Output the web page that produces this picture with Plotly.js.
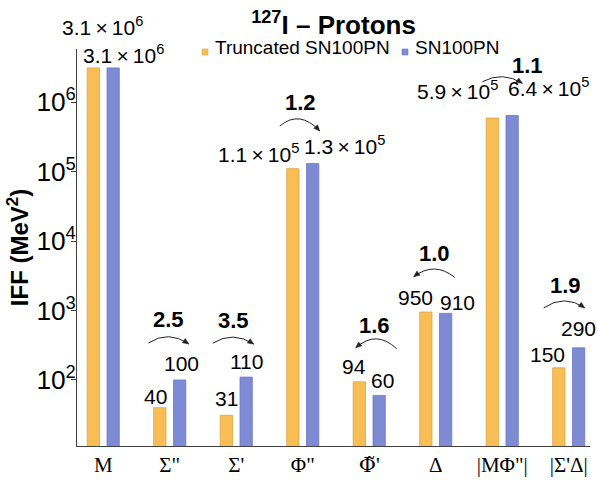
<!DOCTYPE html>
<html><head><meta charset="utf-8">
<script src="https://cdn.plot.ly/plotly-3.0.1.min.js"></script>
<style>html,body{margin:0;padding:0;background:#fff}#chart{width:597px;height:480px}</style>
</head><body><div id="chart"></div>
<script>
// ---------------- data ----------------
const categories = ['M', 'Σ"', "Σ'", 'Φ"', "Φ\u0303'", 'Δ', '|MΦ"|', "|Σ'Δ|"];
const truncatedValues = [3.1e6, 40, 31, 1.1e5, 94, 950, 5.9e5, 150];
const fullValues = [3.1e6, 100, 110, 1.3e5, 60, 910, 6.4e5, 290];
const ratioValues = [null, 2.5, 3.5, 1.2, 1.6, 1.0, 1.1, 1.9];
const seriesNames = ['Truncated SN100PN', 'SN100PN'];

// ---------------- style / placement ----------------
const ORANGE = '#F8BE55', BLUE = '#7E8AD4';
const AXC = '#404040';
const SANS = 'Liberation Sans, Arial, sans-serif';
const SERIF = 'Liberation Serif, Times New Roman, serif';
const yRange = [1.05, 6.763];
const xRange = [-0.395, 7.32];
const BAR_W = 0.185, OFF_T = -0.2415, OFF_F = 0.0565;
const M = {l: 77, r: 7, t: 49, b: 34};
const W = 597, H = 480;
// value label offsets [dx px from bar centre, baseline px above bar top]
const truncLabelOff = [[9, 32], [-4, 3], [0, 9], [-34, 6], [-5, 7], [-10, 7], [-35, 18], [-11, 5]];
const fullLabelOff  = [[10, 4], [2, 8], [0, 8], [32, 9], [3, 7], [12, 3], [36, 19], [0, 11]];
// ratio label [dx, baseline up] relative to group centre / taller bar top
const ratioLabelOff = [null, [-1, 51], [-2.5, 48], [-2, 52], [5, 47], [-1, 50], [25.5, 40.5], [-3.5, 53]];
// arc geometry [x0, up0, x1, up1, peakUp]
const arcGeom = [null, [-21.3, 37, 19, 36, 43.3], [-23.5, 34, 17.5, 33, 40], [-23, 37.6, 17, 32.6, 44.6],
  [-13.5, 34, 27.5, 33, 43], [-22, 35.3, 19, 34.7, 43], [-19.8, 33.8, 20.2, 32.2, 38.8], [-25, 40, 16, 40, 47]];
const DESC = 5.5; // baseline -> annotation box bottom

const idx = categories.map((_, i) => i);

function fmt(v) {
  if (v < 1000) return String(Math.round(v));
  const e = Math.floor(Math.log10(v));
  const m = v / Math.pow(10, e);
  return m.toFixed(1) + '\u2009×\u200910<sup>' + e + '</sup>';
}
// tick text: letters carrying a combining mark are drawn in DejaVu Serif so the mark sits on the letter
function tickLabel(s) {
  return s.replace(/(.[\u0300-\u036f]+)/g, '<span style="font-family:DejaVu Serif">$1</span>');
}

const traces = [
  {type: 'bar', name: seriesNames[0], x: idx, y: truncatedValues, width: BAR_W, offset: OFF_T,
   marker: {color: ORANGE, line: {color: '#DDA445', width: 0.8}}, hoverinfo: 'x+y', showlegend: false},
  {type: 'bar', name: seriesNames[1], x: idx, y: fullValues, width: BAR_W, offset: OFF_F,
   marker: {color: BLUE, line: {color: '#6D78C0', width: 0.8}}, hoverinfo: 'x+y', showlegend: false}
];

const annotations = [];
const shapes = [];
const cT = OFF_T + BAR_W / 2, cF = OFF_F + BAR_W / 2;

idx.forEach(i => {
  annotations.push({xref: 'x', yref: 'y2', x: i + cT, y: Math.log10(truncatedValues[i]),
    xshift: truncLabelOff[i][0], yshift: truncLabelOff[i][1] - DESC, xanchor: 'center', yanchor: 'bottom',
    text: fmt(truncatedValues[i]), showarrow: false, font: {family: SANS, size: 21, color: '#000'}});
  annotations.push({xref: 'x', yref: 'y2', x: i + cF, y: Math.log10(fullValues[i]),
    xshift: fullLabelOff[i][0], yshift: fullLabelOff[i][1] - DESC, xanchor: 'center', yanchor: 'bottom',
    text: fmt(fullValues[i]), showarrow: false, font: {family: SANS, size: 21, color: '#000'}});
  if (ratioValues[i] !== null) {
    const top = Math.log10(Math.max(truncatedValues[i], fullValues[i]));
    annotations.push({xref: 'x', yref: 'y2', x: i, y: top,
      xshift: ratioLabelOff[i][0], yshift: ratioLabelOff[i][1] - DESC, xanchor: 'center', yanchor: 'bottom',
      text: '<b>' + ratioValues[i].toFixed(1) + '</b>', showarrow: false, font: {family: SANS, size: 22, color: '#000'}});
    const g = arcGeom[i];
    const P0 = [g[0], g[1]], P2 = [g[2], g[3]];
    const P1 = [(g[0] + g[2]) / 2, 2 * g[4] - (g[1] + g[3]) / 2];
    const base = {xref: 'x', yref: 'y2', xsizemode: 'pixel', ysizemode: 'pixel', xanchor: i, yanchor: top};
    shapes.push(Object.assign({}, base, {type: 'path',
      path: `M${P0[0]},${P0[1]} Q${P1[0]},${P1[1]} ${P2[0]},${P2[1]}`,
      line: {color: '#222', width: 1}}));
    const toRight = fullValues[i] > truncatedValues[i];
    const E = toRight ? P2 : P0;
    let dx = E[0] - P1[0], dy = E[1] - P1[1];
    const L = Math.hypot(dx, dy); dx /= L; dy /= L;
    const hl = 6, hw = 2.6;
    const bx = E[0] - hl * dx, by = E[1] - hl * dy;
    const a = [bx - hw * dy, by + hw * dx], b = [bx + hw * dy, by - hw * dx];
    shapes.push(Object.assign({}, base, {type: 'path',
      path: `M${E[0]},${E[1]} L${a[0]},${a[1]} L${b[0]},${b[1]} Z`,
      fillcolor: '#222', line: {color: '#222', width: 0.5}}));
  }
});

// manual legend (small square markers)
const pw = W - M.l - M.r, ph = H - M.t - M.b;
const px = x => (x - M.l) / pw;
const py = y => (H - M.b - y) / ph;
const legendItems = [{x: 202, color: ORANGE, lc: '#DDA445'}, {x: 402, color: BLUE, lc: '#6D78C0'}];
legendItems.forEach((it, k) => {
  shapes.push({type: 'rect', xref: 'paper', yref: 'paper', x0: px(it.x), x1: px(it.x + 6), y0: py(55), y1: py(49),
    fillcolor: it.color, line: {color: it.lc, width: 0.6}});
  annotations.push({xref: 'paper', yref: 'paper', x: px(it.x + 11), y: py(47.5), xanchor: 'left', yanchor: 'middle',
    text: seriesNames[k], showarrow: false, font: {family: SANS, size: 19, color: '#000'}});
});

const tickEdges = [xRange[0]];
idx.forEach(i => { tickEdges.push(i + OFF_T, i + OFF_F + BAR_W); });

const layout = {
  width: W, height: H,
  margin: M,
  paper_bgcolor: '#fff', plot_bgcolor: '#fff',
  barmode: 'overlay',
  showlegend: false,
  title: {text: '<b><sup>127</sup>I – Protons</b>', x: 0.5, xref: 'paper', y: 1 - 25 / H, yref: 'container',
    yanchor: 'middle', font: {family: SANS, size: 26, color: '#000'}},
  xaxis: {range: xRange, tickvals: idx, ticktext: categories.map(tickLabel), ticks: '', showgrid: false, zeroline: false,
    showline: true, linecolor: AXC, linewidth: 1, tickfont: {family: SERIF, size: 21, color: '#000'}, fixedrange: true},
  xaxis2: {overlaying: 'x', anchor: 'y', side: 'bottom', range: xRange, tickvals: tickEdges, ticks: 'outside',
    ticklen: 6, tickcolor: AXC, tickwidth: 1, showticklabels: false, showline: false, showgrid: false, zeroline: false},
  yaxis: {type: 'log', range: yRange, dtick: 1, exponentformat: 'power', showexponent: 'all',
    ticks: 'outside', ticklen: 5, tickcolor: AXC, showgrid: false, zeroline: false, ticklabelstandoff: -9,
    showline: true, linecolor: AXC, linewidth: 1, tickfont: {family: SANS, size: 21, color: '#000'},
    title: {text: '<b>IFF (MeV<sup>2</sup>)</b>', font: {family: SANS, size: 24, color: '#000'}, standoff: 0}},
  yaxis2: {overlaying: 'y', range: yRange, visible: false, showgrid: false, zeroline: false},
  annotations: annotations,
  shapes: shapes
};

Plotly.newPlot('chart', traces, layout, {displayModeBar: false, staticPlot: true});
</script>
</body></html>
